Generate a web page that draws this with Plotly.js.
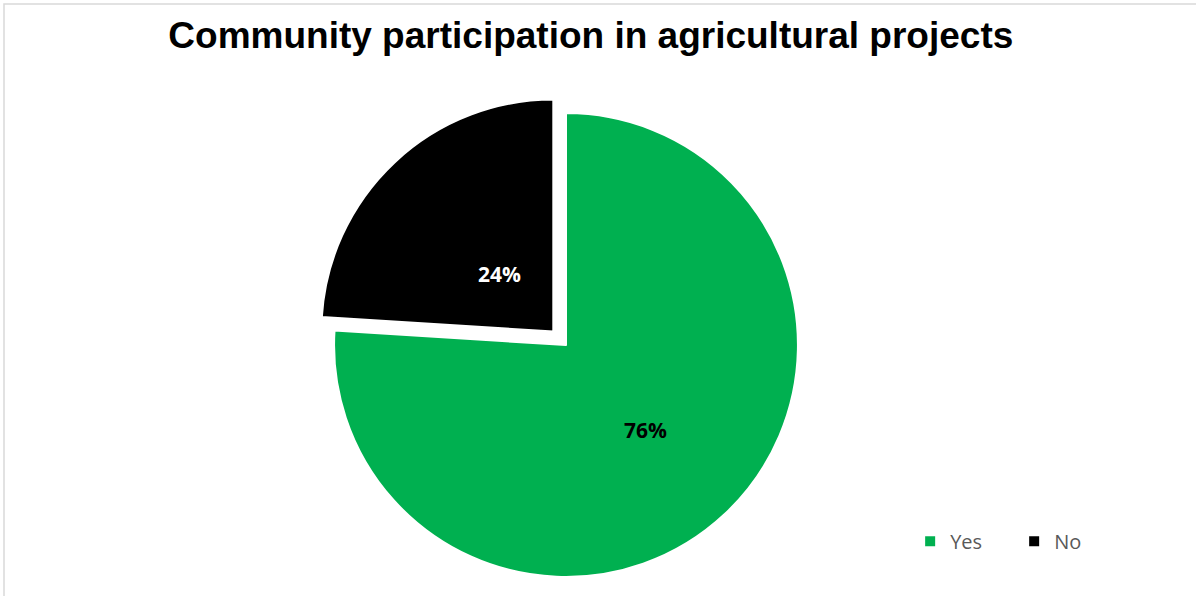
<!DOCTYPE html>
<html>
<head>
<meta charset="utf-8">
<script src="https://cdn.plot.ly/plotly-3.0.1.min.js"></script>
<style>html,body{margin:0;padding:0;background:#fff;}#chart{width:1196px;height:596px;}</style>
</head>
<body>
<div id="chart"></div>
<script>
const categories = ["Yes", "No"];
const values = [76, 24];
const colors = ["#00B050", "#000000"];
const textColors = ["#000000", "#FFFFFF"];
const pulls = [0, 0.08];

const total = values.reduce((a, b) => a + b, 0);
const pct = values.map(v => Math.round(100 * v / total) + "%");

// pie geometry (paper fractions)
const dom = {x: [0.2638, 0.6827], y: [0.0008, 0.8414]};
const W = 1196, H = 596;
const cx = (dom.x[0] + dom.x[1]) / 2 * W;
const cy = (1 - (dom.y[0] + dom.y[1]) / 2) * H;
const R = (dom.x[1] - dom.x[0]) * W / 2 / (1 + Math.max(...pulls));

// label for the pulled "No" slice, placed along its bisector
const startFrac = values[0] / total;
const midAngle = (startFrac + values[1] / total / 2) * 2 * Math.PI;
const dist = (pulls[1] + 0.34) * R;
const lx = cx + Math.sin(midAngle) * dist;
const ly = cy - Math.cos(midAngle) * dist;

const trace = {
  type: "pie",
  labels: categories,
  values: values,
  sort: false,
  direction: "clockwise",
  rotation: 0,
  pull: pulls,
  marker: {colors: colors, line: {color: "#FFFFFF", width: 2}},
  texttemplate: ["%{percent:.0%}", ""],
  textposition: "inside",
  insidetextorientation: "horizontal",
  textfont: {family: "Open Sans, Lato, sans-serif", size: 21, color: textColors, weight: "bold"},
  hoverinfo: "label+percent",
  domain: dom
};

const layout = {
  width: W,
  height: H,
  margin: {l: 0, r: 0, t: 0, b: 0, autoexpand: false},
  paper_bgcolor: "#FFFFFF",
  title: {
    text: "<b>Community participation in agricultural projects</b>",
    font: {family: "Liberation Sans, Arial, sans-serif", size: 37, color: "#000000"},
    x: 0.494, xanchor: "center",
    y: 0.941, yanchor: "middle", xref: "paper", yref: "paper"
  },
  showlegend: true,
  legend: {
    orientation: "h",
    x: 0.761, xanchor: "left",
    y: 0.092, yanchor: "middle",
    font: {family: "Open Sans, Lato, sans-serif", size: 20, color: "#595959"},
    traceorder: "normal",
    itemwidth: 30,
    entrywidth: 59,
    entrywidthmode: "pixels"
  },
  annotations: [{
    xref: "paper", yref: "paper",
    x: lx / W, y: 1 - ly / H,
    xanchor: "center", yanchor: "middle",
    text: "<b>" + pct[1] + "</b>",
    showarrow: false,
    font: {family: "Open Sans, Lato, sans-serif", size: 21, color: textColors[1]}
  }],
  shapes: [{
    type: "rect", xref: "paper", yref: "paper",
    x0: 4/1196, x1: 1.02, y0: -0.02, y1: 1 - 4/596,
    line: {color: "#D9D9D9", width: 1.5}, fillcolor: "rgba(0,0,0,0)", layer: "below"
  }]
};

Plotly.newPlot("chart", [trace], layout, {displayModeBar: false, staticPlot: true});
</script>
</body>
</html>
